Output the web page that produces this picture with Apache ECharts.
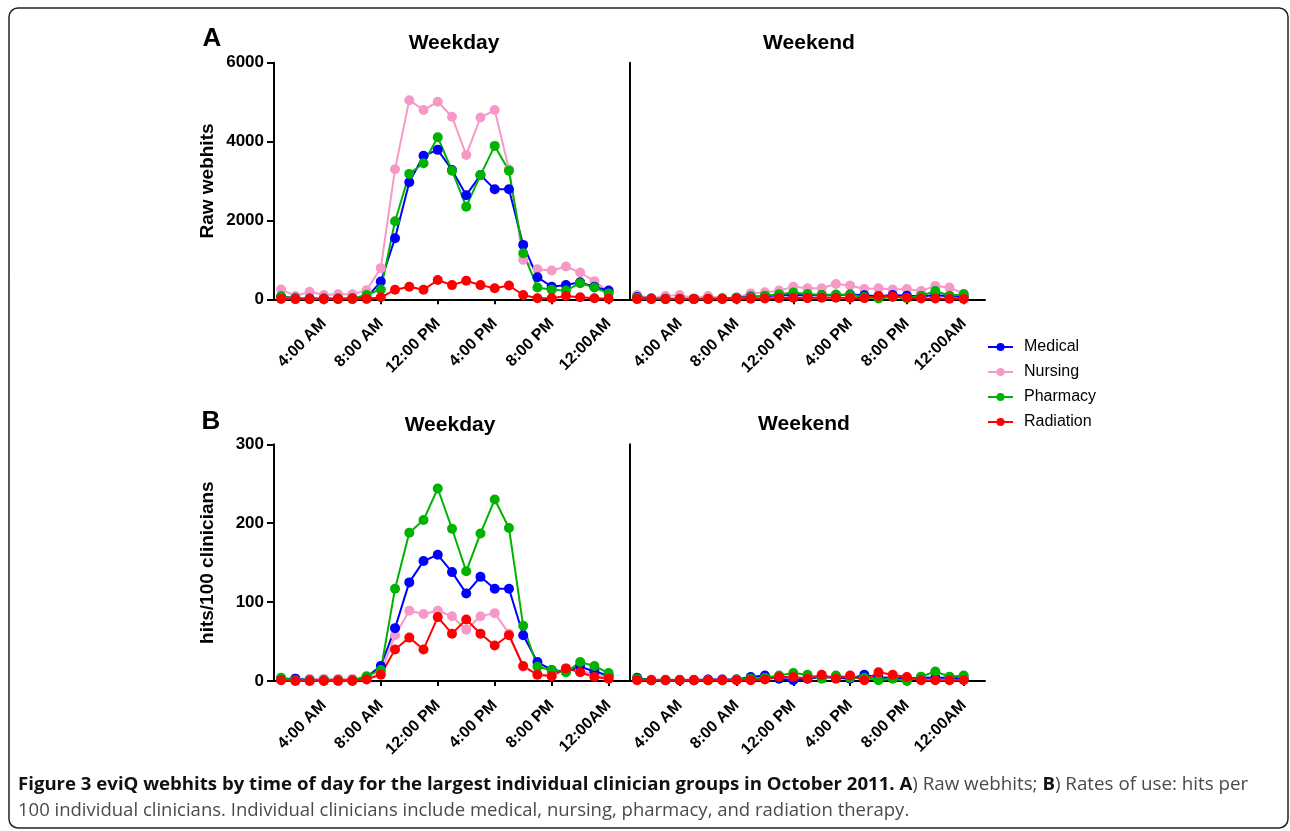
<!DOCTYPE html>
<html>
<head>
<meta charset="utf-8">
<script src="https://cdn.jsdelivr.net/npm/echarts@6/dist/echarts.min.js"></script>
<style>
html,body{margin:0;padding:0;background:#fff;}
#chart{width:1290px;height:831px;}
</style>
</head>
<body>
<div id="chart"></div>
<script>
// ---- data ----
const hours = [1,2,3,4,5,6,7,8,9,10,11,12,13,14,15,16,17,18,19,20,21,22,23,24];
const tickHours = [4,8,12,16,20,24];
const tickLabels = ['4:00 AM','8:00 AM','12:00 PM','4:00 PM','8:00 PM','12:00AM'];
const groups = ['Medical','Nursing','Pharmacy','Radiation'];

// Panel A: raw webhits, weekday
const medicalA_wd   = [70,25,20,20,20,25,40,450,1550,2970,3640,3790,3280,2640,3150,2790,2790,1380,560,320,360,430,320,220];
const nursingA_wd   = [250,85,190,110,130,130,230,790,3300,5050,4800,5010,4630,3660,4610,4800,3300,1000,760,730,830,680,460,190];
const pharmacyA_wd  = [70,20,15,15,15,20,110,250,1980,3180,3450,4110,3260,2350,3150,3890,3260,1170,300,240,220,410,300,150];
const radiationA_wd = [10,5,5,5,5,5,10,50,240,320,240,490,360,470,360,280,350,110,25,25,85,50,25,15];
// Panel A: raw webhits, weekend
const medicalA_we   = [60,20,15,15,10,15,20,40,70,80,100,110,100,110,100,120,100,80,110,90,80,100,80,60];
const nursingA_we   = [110,25,85,110,25,85,25,45,150,180,220,320,280,280,390,350,260,280,250,260,210,340,300,140];
const pharmacyA_we  = [40,15,10,10,10,10,20,30,60,90,130,170,135,110,120,110,60,20,60,30,90,210,90,130];
const radiationA_we = [5,5,5,5,5,5,5,10,15,20,30,40,30,40,40,35,30,85,70,40,20,20,15,10];
// Panel B: hits per 100 clinicians, weekday
const medicalB_wd   = [3,3,1,1,1,1,5,19,67,125,152,160,138,111,132,117,117,58,24,14,12,18,12,7];
const nursingB_wd   = [2,3,3,3,3,3,3,10,58,89,85,89,82,65,82,86,60,18,8,8,16,14,8,5];
const pharmacyB_wd  = [4,1,1,1,1,1,6,14,117,188,204,244,193,139,187,230,194,70,18,14,11,24,19,10];
const radiationB_wd = [1,0,0,0,0,0,2,8,40,55,40,81,60,78,60,45,58,19,8,6,16,11,5,3];
// Panel B: hits per 100 clinicians, weekend
const medicalB_we   = [4,1,1,1,1,2,2,2,5,7,3,1,3,5,4,3,8,4,4,3,4,4,4,3];
const nursingB_we   = [3,2,2,2,2,2,2,2,4,5,4,4,4,5,4,4,5,5,4,4,4,4,3,3];
const pharmacyB_we  = [3,1,1,1,1,1,1,2,3,4,7,10,8,3,7,4,4,1,3,0,5.5,12,5.5,7];
const radiationB_we = [1,1,1,1,1,1,1,1,1,2,5,5,3,8,3,7,1,11,8,5,1,1,1,1];

// ---- styling ----
const colors = {Medical:'#0000FF', Nursing:'#F799C8', Pharmacy:'#00B300', Radiation:'#FF0000'};
const FONT = 'Liberation Sans, Arial, sans-serif';

const panels = [
  {grid:0, data:{Medical:medicalA_wd, Nursing:nursingA_wd, Pharmacy:pharmacyA_wd, Radiation:radiationA_wd}},
  {grid:1, data:{Medical:medicalA_we, Nursing:nursingA_we, Pharmacy:pharmacyA_we, Radiation:radiationA_we}},
  {grid:2, data:{Medical:medicalB_wd, Nursing:nursingB_wd, Pharmacy:pharmacyB_wd, Radiation:radiationB_wd}},
  {grid:3, data:{Medical:medicalB_we, Nursing:nursingB_we, Pharmacy:pharmacyB_we, Radiation:radiationB_we}}
];
const drawOrder = ['Nursing','Medical','Pharmacy','Radiation'];

const series = [];
panels.forEach(p => {
  drawOrder.forEach(g => {
    series.push({
      name: g, type: 'line',
      xAxisIndex: p.grid, yAxisIndex: p.grid,
      data: hours.map((h, i) => [h, p.data[g][i]]),
      symbol: 'circle', symbolSize: 10,
      lineStyle: {color: colors[g], width: 2},
      itemStyle: {color: colors[g]},
      emphasis: {disabled: true},
      animation: false
    });
  });
});

function xAxis(i) {
  return {
    type: 'value', gridIndex: i, min: 0.5, max: 25.5,
    splitLine: {show: false},
    axisLine: {show: true, onZero: false, lineStyle: {color: '#000', width: 2}},
    axisTick: {show: true, customValues: tickHours, length: 5, lineStyle: {color: '#000', width: 2}},
    axisLabel: {
      show: true, customValues: tickHours, rotate: 45, margin: 22,
      formatter: v => tickLabels[tickHours.indexOf(v)],
      fontFamily: FONT, fontWeight: 'bold', fontSize: 16, color: '#000'
    }
  };
}
function yAxis(i, max, interval, name, labels) {
  return {
    type: 'value', gridIndex: i, min: 0, max: max, interval: interval,
    splitLine: {show: false},
    axisLine: {show: true, lineStyle: {color: '#000', width: 2}},
    axisTick: {show: labels, length: 7, lineStyle: {color: '#000', width: 2}},
    axisLabel: {show: labels, margin: 10, formatter: v => String(v),
      fontFamily: FONT, fontWeight: 'bold', fontSize: 17, color: '#000'},
    name: labels ? name : '', nameLocation: 'middle', nameRotate: 90, nameGap: 57,
    nameTextStyle: {fontFamily: FONT, fontWeight: 'bold', fontSize: 19, color: '#000'}
  };
}

const titleStyle = {fontFamily: FONT, fontWeight: 'bold', fontSize: 21, fill: '#000', align: 'center', verticalAlign: 'middle'};
const letterStyle = {fontFamily: FONT, fontWeight: 'bold', fontSize: 26, fill: '#000', align: 'center', verticalAlign: 'middle'};

const capFont = 'Open Sans, sans-serif';
const chart = echarts.init(document.getElementById('chart'), null, {renderer: 'canvas'});
chart.setOption({
  backgroundColor: '#fff',
  animation: false,
  grid: [
    {left: 274, top: 62.7, width: 356, height: 236.6},
    {left: 630, top: 62.7, width: 355, height: 236.6},
    {left: 274, top: 444.3, width: 356, height: 236.7},
    {left: 630, top: 444.3, width: 355, height: 236.7}
  ],
  xAxis: [xAxis(0), xAxis(1), xAxis(2), xAxis(3)],
  yAxis: [
    yAxis(0, 6000, 2000, 'Raw webhits', true),
    yAxis(1, 6000, 2000, '', false),
    yAxis(2, 300, 100, 'hits/100 clinicians', true),
    yAxis(3, 300, 100, '', false)
  ],
  legend: {
    data: groups, orient: 'vertical', left: 982, top: 334,
    itemWidth: 25, itemHeight: 10, itemGap: 9,
    selectedMode: false,
    textStyle: {fontFamily: FONT, fontSize: 16, color: '#000', padding: [0, 0, 0, 6]}
  },
  graphic: [
    {type: 'rect', shape: {x: 9, y: 8, width: 1279, height: 820, r: 9}, style: {fill: 'none', stroke: '#222', lineWidth: 1.5}, silent: true},
    {type: 'text', x: 212, y: 39, style: Object.assign({text: 'A'}, letterStyle)},
    {type: 'text', x: 211, y: 422, style: Object.assign({text: 'B'}, letterStyle)},
    {type: 'text', x: 454, y: 43, style: Object.assign({text: 'Weekday'}, titleStyle)},
    {type: 'text', x: 809, y: 43, style: Object.assign({text: 'Weekend'}, titleStyle)},
    {type: 'text', x: 450, y: 425, style: Object.assign({text: 'Weekday'}, titleStyle)},
    {type: 'text', x: 804, y: 424, style: Object.assign({text: 'Weekend'}, titleStyle)},
    {type: 'text', x: 18, y: 785, style: {
      text: '{b|Figure 3 eviQ webhits by time of day for the largest individual clinician groups in October 2011. A}{r|) Raw webhits; }{b|B}{r|) Rates of use: hits per}',
      verticalAlign: 'middle',
      rich: {
        b: {fontFamily: capFont, fontWeight: 'bold', fontSize: 18.6, fill: '#111'},
        r: {fontFamily: capFont, fontSize: 18.8, fill: '#4a4a4a'}
      }
    }},
    {type: 'text', x: 18, y: 811, style: {
      text: '100 individual clinicians. Individual clinicians include medical, nursing, pharmacy, and radiation therapy.',
      verticalAlign: 'middle', fontFamily: capFont, fontSize: 18.5, fill: '#4a4a4a'
    }}
  ],
  series: series
});
</script>
</body>
</html>
